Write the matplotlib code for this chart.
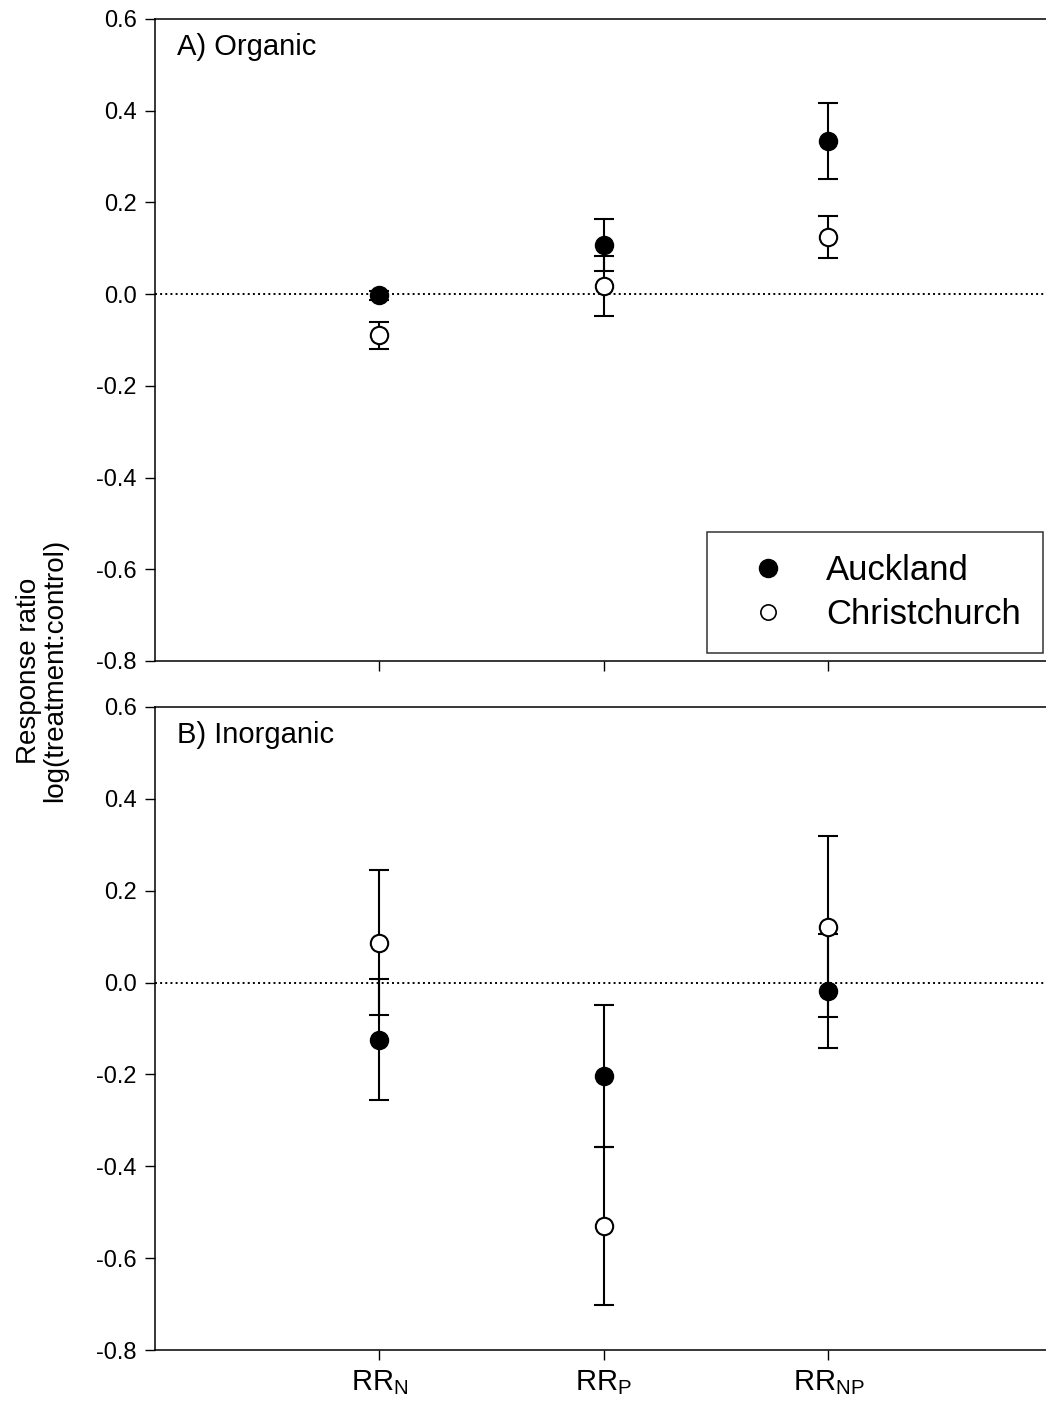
import matplotlib
matplotlib.use("Agg")
import matplotlib.pyplot as plt
import numpy as np

plt.rcParams['font.family'] = ['Liberation Sans', 'DejaVu Sans']
plt.rcParams['mathtext.fontset'] = 'custom'
plt.rcParams['mathtext.rm'] = 'Liberation Sans'
plt.rcParams['mathtext.it'] = 'Liberation Sans'

# categories
cats = [r'$\mathrm{RR_N}$', r'$\mathrm{RR_P}$', r'$\mathrm{RR_{NP}}$']
xpos = [1, 2, 3]
yticks = [-0.8, -0.6, -0.4, -0.2, 0.0, 0.2, 0.4, 0.6]
ytick_labels = ['-0.8', '-0.6', '-0.4', '-0.2', '0.0', '0.2', '0.4', '0.6']

# A) organic
org_auck = [-0.003, 0.107, 0.334]
org_auck_err = [0.010, 0.056, 0.083]
org_chch = [-0.090, 0.018, 0.125]
org_chch_err = [0.030, 0.065, 0.046]

# B) inorganic
inorg_auck = [-0.124, -0.203, -0.018]
inorg_auck_err = [0.132, 0.154, 0.124]
inorg_chch = [0.087, -0.530, 0.122]
inorg_chch_err = [0.158, 0.173, 0.198]

fig = plt.figure(figsize=(10.46, 14.12), dpi=100)
axA = fig.add_axes([0.1482, 0.5319, 0.8518, 0.4547])
axB = fig.add_axes([0.1482, 0.0439, 0.8518, 0.4554])


def panel(ax, auck, auck_err, chch, chch_err, title):
    ax.axhline(0, color='k', linestyle=':', linewidth=1.4, zorder=1)
    ax.errorbar(xpos, auck, yerr=auck_err, fmt='o', color='k', markersize=13,
                markerfacecolor='k', markeredgecolor='k', elinewidth=1.5,
                capsize=7, capthick=1.5, zorder=3, label='Auckland')
    ax.errorbar(xpos, chch, yerr=chch_err, fmt='o', color='k', markersize=12.5,
                markerfacecolor='white', markeredgecolor='k', markeredgewidth=1.5,
                elinewidth=1.5, capsize=7, capthick=1.5, zorder=3, label='Christchurch')
    ax.set_xlim(0, 3.97)
    ax.set_ylim(-0.8, 0.6)
    ax.set_yticks(yticks)
    ax.set_yticklabels(ytick_labels)
    ax.set_xticks(xpos)
    ax.spines['right'].set_visible(False)
    for s in ['left', 'top', 'bottom']:
        ax.spines[s].set_linewidth(1.1)
    ax.tick_params(direction='out', length=7, width=1.0, labelsize=17, pad=6)
    ax.text(0.025, 0.978, title, transform=ax.transAxes, fontsize=21, va='top', ha='left')


panel(axA, org_auck, org_auck_err, org_chch, org_chch_err, 'A) Organic')
panel(axB, inorg_auck, inorg_auck_err, inorg_chch, inorg_chch_err, 'B) Inorganic')

axA.set_xticklabels([])
axB.set_xticklabels(cats, fontsize=21)

# legend with plain markers
h1, = axA.plot([], [], 'o', color='k', markersize=13)
h2, = axA.plot([], [], 'o', markerfacecolor='white', markeredgecolor='k',
               markeredgewidth=1.2, markersize=11)
leg = axA.legend([h1, h2], ['Auckland', 'Christchurch'], loc='lower right',
                 bbox_to_anchor=(0.997, 0.012), fontsize=25, frameon=True,
                 fancybox=False, edgecolor='k', borderpad=0.65, labelspacing=0.3,
                 handletextpad=0.58, borderaxespad=0, handlelength=2.2)
leg.get_frame().set_linewidth(1.1)

fig.text(0.04, 0.525, 'Response ratio\nlog(treatment:control)', rotation=90,
         fontsize=20, ha='center', va='center', linespacing=1.0)

fig.savefig('out.png', dpi=100)
